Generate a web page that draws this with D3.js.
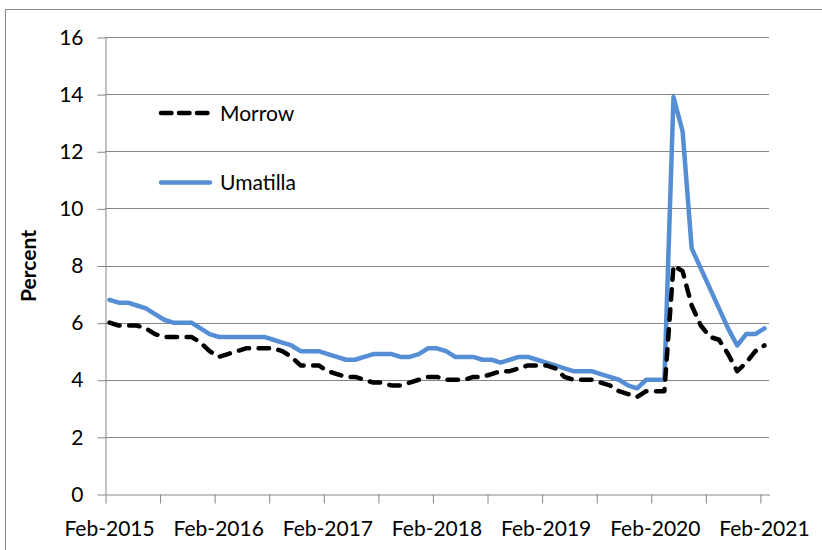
<!DOCTYPE html>
<html>
<head>
<meta charset="utf-8">
<script src="https://cdn.jsdelivr.net/npm/d3@7"></script>
<style>
  html, body { margin: 0; padding: 0; background: #fff; }
  svg { display: block; }
  text { font-family: Lato, "Noto Sans", sans-serif; fill: #000; }
</style>
</head>
<body>
<svg id="chart" width="822" height="550"></svg>
<script>
// ---- data (monthly, Feb-2015 .. Feb-2021) ----
const startYear = 2015, startMonth = 1; // Feb (0-based month index)
const seriesNames = ["Morrow", "Umatilla"];
const morrow = [
  6.0, 5.9, 5.9, 5.9, 5.8, 5.6, 5.5, 5.5, 5.5, 5.5, 5.3, 5.0,
  4.8, 4.9, 5.0, 5.1, 5.1, 5.1, 5.1, 5.0, 4.8, 4.5, 4.5, 4.5,
  4.3, 4.2, 4.1, 4.1, 4.0, 3.9, 3.9, 3.8, 3.8, 3.9, 4.0, 4.1,
  4.1, 4.0, 4.0, 4.0, 4.1, 4.1, 4.2, 4.3, 4.3, 4.4, 4.5, 4.5,
  4.5, 4.4, 4.1, 4.0, 4.0, 4.0, 3.9, 3.8, 3.6, 3.5, 3.4, 3.6,
  3.6, 3.6, 8.0, 7.8, 6.6, 5.9, 5.5, 5.4, 4.9, 4.3, 4.6, 5.0,
  5.2
];
const umatilla = [
  6.8, 6.7, 6.7, 6.6, 6.5, 6.3, 6.1, 6.0, 6.0, 6.0, 5.8, 5.6,
  5.5, 5.5, 5.5, 5.5, 5.5, 5.5, 5.4, 5.3, 5.2, 5.0, 5.0, 5.0,
  4.9, 4.8, 4.7, 4.7, 4.8, 4.9, 4.9, 4.9, 4.8, 4.8, 4.9, 5.1,
  5.1, 5.0, 4.8, 4.8, 4.8, 4.7, 4.7, 4.6, 4.7, 4.8, 4.8, 4.7,
  4.6, 4.5, 4.4, 4.3, 4.3, 4.3, 4.2, 4.1, 4.0, 3.8, 3.7, 4.0,
  4.0, 4.0, 13.9, 12.7, 8.6, 7.9, 7.2, 6.5, 5.8, 5.2, 5.6, 5.6,
  5.8
];
const xTickLabels = ["Feb-2015", "Feb-2016", "Feb-2017", "Feb-2018", "Feb-2019", "Feb-2020", "Feb-2021"];
const yTicks = [0, 2, 4, 6, 8, 10, 12, 14, 16];
const yTitle = "Percent";

// month categories
const months = morrow.map((_, i) => new Date(startYear, startMonth + i, 1));

// ---- layout ----
const svg = d3.select("#chart");
const plotL = 105, plotR = 769, plotT = 37, plotB = 494;
const axisColor = "#868686";
const blue = "#558ED5";

// chart border
svg.append("rect")
  .attr("x", 5.5).attr("y", 9.5)
  .attr("width", 840).attr("height", 600)
  .attr("fill", "none").attr("stroke", axisColor).attr("stroke-width", 1);

const x = d3.scaleLinear().domain([0, months.length]).range([plotL, plotR]);
const y = d3.scaleLinear().domain([0, 16]).range([plotB, plotT]);
const px = i => x(i + 0.5);

// gridlines
svg.append("g").selectAll("line")
  .data(yTicks.filter(d => d > 0))
  .join("line")
  .attr("x1", plotL).attr("x2", plotR)
  .attr("y1", d => Math.round(y(d)) + 0.5).attr("y2", d => Math.round(y(d)) + 0.5)
  .attr("stroke", axisColor).attr("stroke-width", 1);

// y axis
const yAxis = svg.append("g")
  .attr("transform", `translate(${plotL + 0.5},0.5)`)
  .call(d3.axisLeft(y).tickValues(yTicks).tickSize(8).tickPadding(14).tickSizeOuter(0));
yAxis.select(".domain").attr("stroke", axisColor);
yAxis.selectAll(".tick line").attr("stroke", axisColor);
yAxis.selectAll(".tick text")
  .attr("font-size", 21).attr("font-family", "Lato").attr("fill", "#000");

// x axis (ticks every 6 months)
const xTickVals = d3.range(0, months.length + 1, 6).filter(d => d <= months.length - 1);
const xAxis = svg.append("g")
  .attr("transform", `translate(0.5,${Math.round(plotB) + 0.5})`)
  .call(d3.axisBottom(x).tickValues(xTickVals).tickSize(9).tickFormat("").tickSizeOuter(0));
xAxis.select(".domain").attr("stroke", axisColor);
xAxis.selectAll(".tick line").attr("stroke", axisColor);

// x labels, one per year, centred on the labelled month
svg.append("g").selectAll("text")
  .data(xTickLabels)
  .join("text")
  .attr("x", (d, k) => px(k * 12))
  .attr("y", 536)
  .attr("text-anchor", "middle")
  .attr("font-size", 21)
  .text(d => d);

// y title
svg.append("text")
  .attr("transform", `translate(36,266) rotate(-90)`)
  .attr("text-anchor", "middle")
  .attr("font-size", 21)
  .attr("font-weight", "bold")
  .text(yTitle);

// lines
const line = d3.line().x((d, i) => px(i)).y(d => y(d));
svg.append("path")
  .datum(umatilla)
  .attr("d", line)
  .attr("fill", "none").attr("stroke", blue).attr("stroke-width", 4.5)
  .attr("stroke-linejoin", "round").attr("stroke-linecap", "round");
svg.append("path")
  .datum(morrow)
  .attr("d", line)
  .attr("fill", "none").attr("stroke", "#000").attr("stroke-width", 4.5)
  .attr("stroke-dasharray", "10.5,9.5")
  .attr("stroke-linejoin", "round").attr("stroke-linecap", "round");

// legend
const legend = [
  { name: seriesNames[0], y: 113, color: "#000", dash: "10.5,7.5" },
  { name: seriesNames[1], y: 182.5, color: blue, dash: null }
];
const lg = svg.append("g");
legend.forEach(d => {
  lg.append("line")
    .attr("x1", 161).attr("x2", 210).attr("y1", d.y).attr("y2", d.y)
    .attr("stroke", d.color).attr("stroke-width", 4.5)
    .attr("stroke-linecap", "round")
    .attr("stroke-dasharray", d.dash);
  lg.append("text")
    .attr("x", 220).attr("y", d.y + 7.5)
    .attr("font-size", 21)
    .text(d.name);
});
</script>
</body>
</html>
